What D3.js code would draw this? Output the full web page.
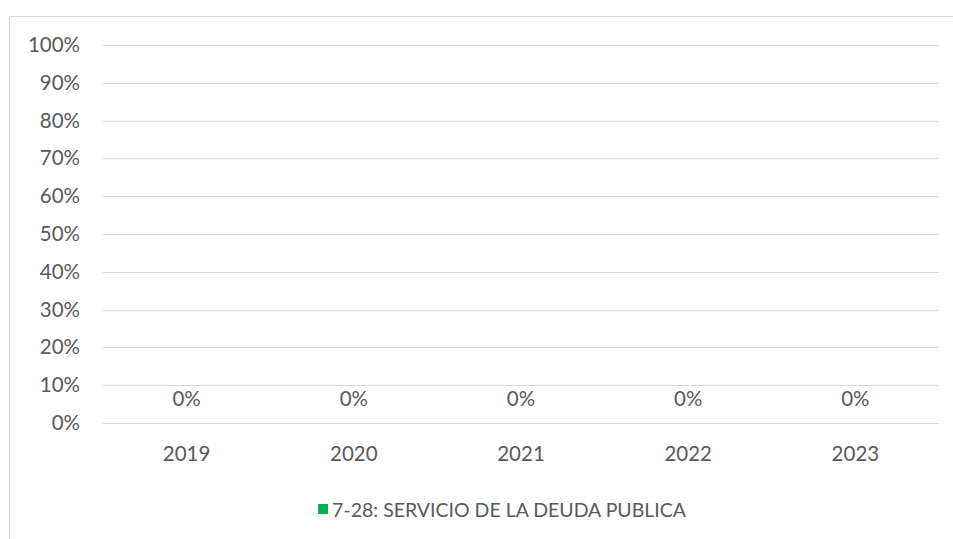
<!DOCTYPE html>
<html>
<head>
<meta charset="utf-8">
<script src="https://cdn.jsdelivr.net/npm/d3@7"></script>
<style>
  body { margin: 0; background: #fff; }
  text { font-family: Lato, "Open Sans", sans-serif; fill: #595959; }
</style>
</head>
<body>
<svg id="chart" width="953" height="539"></svg>
<script>
/* chart data */
const years = ['2019', '2020', '2021', '2022', '2023'];
const values = [0, 0, 0, 0, 0];
const yTicks = [0, 0.1, 0.2, 0.3, 0.4, 0.5, 0.6, 0.7, 0.8, 0.9, 1];
const seriesName = '7-28: SERVICIO DE LA DEUDA PUBLICA';

const width = 953, height = 539;
const margin = { left: 103, right: 14, top: 45, bottom: 116 };
const fontSize = '20.5px';

const svg = d3.select('#chart');

/* outer chart border */
svg.append('rect')
  .attr('x', 9.5).attr('y', 16.5)
  .attr('width', 960).attr('height', 560)
  .attr('fill', 'none')
  .attr('stroke', '#d9d9d9');

/* scales */
const x = d3.scaleBand()
  .domain(years)
  .range([margin.left, width - margin.right])
  .paddingInner(0.5).paddingOuter(0.25);

const y = d3.scaleLinear()
  .domain([0, 1])
  .range([height - margin.bottom, margin.top]);

/* gridlines */
svg.append('g')
  .selectAll('line')
  .data(yTicks)
  .join('line')
  .attr('x1', margin.left).attr('x2', width - margin.right)
  .attr('y1', d => Math.round(y(d)) + 0.5)
  .attr('y2', d => Math.round(y(d)) + 0.5)
  .attr('stroke', '#d9d9d9');

/* y axis labels */
const yAxis = d3.axisLeft(y).tickValues(yTicks).tickFormat(d3.format('.0%')).tickSize(0).tickPadding(0);
svg.append('g')
  .attr('transform', `translate(80,0)`)
  .call(yAxis)
  .call(g => g.select('.domain').remove())
  .selectAll('text')
  .style('font-size', fontSize)
  .attr('fill', '#595959');

/* x axis labels */
const xAxis = d3.axisBottom(x).tickSize(0).tickPadding(0);
svg.append('g')
  .attr('transform', `translate(0,${y(0) + 30})`)
  .call(xAxis)
  .call(g => g.select('.domain').remove())
  .selectAll('text')
  .attr('dy', 0)
  .attr('dominant-baseline', 'central')
  .style('font-size', fontSize)
  .attr('fill', '#595959');

/* bars (zero height) */
svg.append('g')
  .selectAll('rect')
  .data(values)
  .join('rect')
  .attr('x', (d, i) => x(years[i]))
  .attr('width', x.bandwidth())
  .attr('y', d => y(d))
  .attr('height', d => y(0) - y(d))
  .attr('fill', '#00b050');

/* data labels */
svg.append('g')
  .selectAll('text')
  .data(values)
  .join('text')
  .attr('x', (d, i) => x(years[i]) + x.bandwidth() / 2)
  .attr('y', d => y(d) - 25)
  .attr('text-anchor', 'middle')
  .attr('dominant-baseline', 'central')
  .style('font-size', fontSize)
  .text(d => d3.format('.0%')(d));

/* legend, text ends near x = 686 */
const legend = svg.append('g');
const label = legend.append('text')
  .attr('x', 686).attr('y', 509)
  .attr('text-anchor', 'end')
  .attr('dominant-baseline', 'central')
  .style('font-size', '19.5px')
  .text(seriesName);
const textStart = 686 - label.node().getComputedTextLength();
legend.append('rect')
  .attr('x', textStart - 14).attr('y', 504)
  .attr('width', 10).attr('height', 10)
  .attr('fill', '#00b050');
</script>
</body>
</html>
